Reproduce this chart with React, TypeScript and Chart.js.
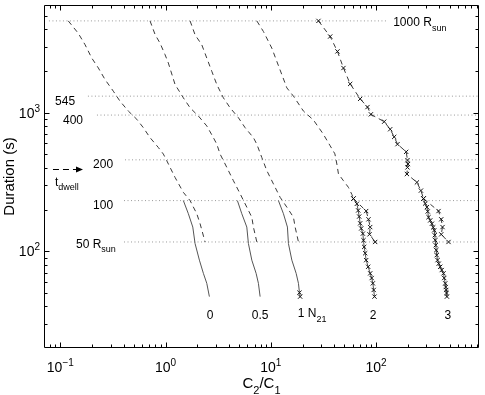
import React, { useEffect, useRef } from "react";
import { Chart, registerables } from "chart.js";

Chart.register(...registerables);

// ---- axis ranges / ticks ----
const X_MIN = 0.07;
const X_MAX = 950;
const Y_MIN = 20;
const Y_MAX = 6000;
const X_TICK_EXP = [-1, 0, 1, 2];
const Y_TICK_EXP = [2, 3];

// ---- reference distance levels (dotted lines) ----
const REF_NAMES = ["1000", "545", "400", "200", "100", "50"];
const REF_DURATION = [4606, 1318, 962, 457, 232, 116.6];
const REF_X_START = [0.078, 0.183, 0.223, 0.412, 0.403, 0.403];
const REF_X_END = [127.5, 950, 950, 950, 950, 950];

// ---- N21 = 0 ----
const G0_DASH_X = [0.119, 0.148, 0.172, 0.199, 0.23, 0.266, 0.319, 0.369, 0.443, 0.533, 0.615, 0.712, 0.854, 0.953, 1.027, 1.231, 1.476, 1.71, 1.98, 2.128, 2.374];
const G0_DASH_Y = [4606, 3752, 3097, 2482, 2104, 1737, 1431, 1213, 1028, 897, 780, 661, 561, 503, 450, 341, 266, 232, 186.5, 158, 116.6];
const G0_SOLID_X = [1.476, 1.647, 1.814, 1.907, 2.096, 2.287, 2.464, 2.608];
const G0_SOLID_Y = [232, 186.5, 149.4, 113.6, 86.2, 69.2, 58.6, 47.0];

// ---- N21 = 0.5 ----
const G05_DASH_X = [0.712, 0.795, 0.886, 0.989, 1.063, 1.231, 1.476, 1.71, 2.05, 2.464, 2.847, 3.067, 3.297, 3.818, 4.411, 5.108, 5.913, 6.598, 6.833, 7.36];
const G05_DASH_Y = [4606, 3673, 3181, 2626, 2285, 1599, 1281, 1086, 947, 803, 661, 593, 503, 403, 323, 260, 208, 176, 149.4, 116.6];
const G05_SOLID_X = [4.814, 5.301, 5.913, 6.125, 6.598, 7.249, 7.622, 7.912];
const G05_SOLID_Y = [232, 186.5, 149.4, 113.6, 86.2, 69.2, 58.6, 47.0];

// ---- N21 = 1 ----
const G1_DASH_X = [1.71, 1.907, 2.208, 2.464, 2.749, 3.067, 3.543, 4.103, 4.92, 5.697, 6.833, 7.36, 8.21, 9.16, 10.59, 12.26, 14.2, 16.4, 17.02, 18.3];
const G1_DASH_Y = [4606, 3654, 3097, 2482, 1993, 1599, 1281, 1086, 921, 780, 661, 593, 475, 382, 306, 245, 208, 176, 149.4, 116.6];
const G1_SOLID_X = [11.81, 13.18, 14.38, 14.7, 15.84, 17.4, 18.3, 18.71, 18.99];
const G1_SOLID_Y = [232, 186.5, 149.4, 113.6, 86.2, 69.2, 58.6, 50.2, 47.0];

// ---- N21 = 2 ----
const G2_DASH_X = [7.36, 8.506, 10.22, 11.4, 12.72, 14.2, 16.4, 20.41, 25.41, 31.42, 36.62, 40.6, 42.41, 43.92, 48.98, 54.65, 58.88, 60.98];
const G2_DASH_Y = [4606, 3860, 2928, 2350, 1887, 1512, 1318, 1028, 886, 703, 577, 505, 426, 361, 323, 289, 257, 240];
const G2_BRANCH_X = [60.98, 80.5, 84.7, 87.9, 86.6, 98.0];
const G2_BRANCH_Y = [240, 195, 170, 149.4, 132.4, 116.6];
const G2_SOLID_X = [60.98, 65.7, 67.6, 69.1, 70.6, 72.2, 74.9, 75.9, 77.1, 78.8, 80.5, 84.1, 87.9, 90.8, 93.2, 94.9, 96.6];
const G2_SOLID_Y = [240, 220, 197, 178, 159, 146, 134, 120, 107.4, 96.7, 86.2, 77.2, 69.2, 64.0, 58.6, 52.5, 47.0];

// ---- N21 = 3 ----
const G3_DASH_X = [28.35, 36.62, 42.96, 48.98, 56.74, 70.6, 82.85, 89.25, 119.4, 136.1, 148.6, 159.7, 193.2, 198.8, 200.6, 198.8, 196.3, 244.3, 266.6, 282.2];
const G3_DASH_Y = [4606, 3552, 2773, 2104, 1615, 1260, 1099, 974, 862, 760, 669, 593, 522, 455, 426, 403, 361, 314, 274, 240];
const G3_BRANCH_X = [282.2, 391.9, 415.8, 427.8, 415.8, 487.8];
const G3_BRANCH_Y = [240, 195, 170, 149.4, 132.4, 116.6];
const G3_SOLID_X = [282.2, 292.9, 304.0, 309.4, 314.9, 326.8, 339.2, 349.0, 356.7, 360.6, 364.6, 368.6, 372.7, 376.7, 383.5, 393.6, 406.8, 420.4, 437.2, 443.9, 453.8, 458.8, 463.8, 466.9, 471.0];
const G3_SOLID_Y = [240, 221.1, 208, 193.7, 176, 166.9, 158, 148.7, 141.5, 130.3, 120, 110.4, 101.7, 93.6, 86.2, 81.3, 77.2, 73.1, 69.2, 64.0, 58.6, 55.1, 52.5, 49.9, 47.0];

// ---- text annotations (data coordinates) ----
type Part = { t: string; s?: "sub" | "sup" };
const LABEL_PARTS: Part[][] = [
  [{ t: "545" }],
  [{ t: "400" }],
  [{ t: "200" }],
  [{ t: "t" }, { t: "dwell", s: "sub" }],
  [{ t: "100" }],
  [{ t: "50 R" }, { t: "sun", s: "sub" }],
  [{ t: "1000 R" }, { t: "sun", s: "sub" }],
  [{ t: "0" }],
  [{ t: "0.5" }],
  [{ t: "1 N" }, { t: "21", s: "sub" }],
  [{ t: "2" }],
  [{ t: "3" }],
];
const LABEL_X = [0.0891, 0.1061, 0.2046, 0.0891, 0.2046, 0.141, 145.4, 2.649, 7.91, 18.05, 93.9, 481.4];
const LABEL_Y = [1213, 886, 428, 320, 217, 114, 4540, 34.7, 34.7, 36, 34.7, 34.7];
const LABEL_ALIGN = ["left", "left", "left", "left", "left", "left", "left", "center", "center", "left", "center", "center"];
const ARROW_X = [0.0852, 0.1643];
const ARROW_Y = 394;

const FONT = '"Liberation Sans", Arial, Helvetica, sans-serif';

const pts = (xs: number[], ys: number[]) => xs.map((x, i) => ({ x, y: ys[i] }));

function drawRich(ctx: CanvasRenderingContext2D, parts: Part[], x: number, y: number, align: string, size: number, subSize?: number) {
  const ss = subSize ?? Math.round(size * 0.72);
  const big = `${size}px ${FONT}`;
  const small = `${ss}px ${FONT}`;
  let w = 0;
  const ws = parts.map((p) => {
    ctx.font = p.s ? small : big;
    const m = ctx.measureText(p.t).width;
    w += m;
    return m;
  });
  let cx = align === "left" ? x : align === "center" ? x - w / 2 : x - w;
  ctx.textAlign = "left";
  ctx.textBaseline = "alphabetic";
  parts.forEach((p, i) => {
    ctx.font = p.s ? small : big;
    const dy = p.s === "sub" ? size * 0.38 : p.s === "sup" ? -size * 0.42 : 0;
    ctx.fillText(p.t, cx, y + dy);
    cx += ws[i];
  });
}

const framePlugin = {
  id: "frame",
  afterDatasetsDraw(chart: any) {
    const { ctx, chartArea: a, scales } = chart;
    const xs = scales.x;
    const ys = scales.y;
    ctx.save();
    ctx.strokeStyle = "#000";
    ctx.fillStyle = "#000";
    ctx.lineWidth = 1;
    const L = Math.round(a.left) + 0.5;
    const R = Math.round(a.right) - 0.5;
    const T = Math.round(a.top) + 0.5;
    const B = Math.round(a.bottom) - 0.5;
    ctx.beginPath();
    ctx.moveTo(L, T);
    ctx.lineTo(R, T);
    ctx.lineTo(R, B);
    ctx.lineTo(L, B);
    ctx.closePath();
    ctx.stroke();

    // ticks
    ctx.beginPath();
    for (let e = -2; e <= 3; e++) {
      for (let m = 1; m <= 9; m++) {
        const v = m * Math.pow(10, e);
        if (v <= X_MIN || v >= X_MAX) continue;
        const px = Math.round(xs.getPixelForValue(v)) + 0.5;
        const len = m === 1 ? 5 : 3;
        ctx.moveTo(px, B);
        ctx.lineTo(px, B - len);
        ctx.moveTo(px, T);
        ctx.lineTo(px, T + len);
      }
    }
    for (let e = 1; e <= 4; e++) {
      for (let m = 1; m <= 9; m++) {
        const v = m * Math.pow(10, e);
        if (v <= Y_MIN || v >= Y_MAX) continue;
        const py = Math.round(ys.getPixelForValue(v)) + 0.5;
        const len = m === 1 ? 5 : 3;
        ctx.moveTo(L, py);
        ctx.lineTo(L + len, py);
        ctx.moveTo(R, py);
        ctx.lineTo(R - len, py);
      }
    }
    ctx.stroke();

    // tick labels
    X_TICK_EXP.forEach((e) => {
      const px = xs.getPixelForValue(Math.pow(10, e));
      drawRich(ctx, [{ t: "10" }, { t: String(e).replace("-", "\u2212"), s: "sup" }], px, a.bottom + 24, "center", 14, 10);
    });
    Y_TICK_EXP.forEach((e) => {
      const py = ys.getPixelForValue(Math.pow(10, e));
      drawRich(ctx, [{ t: "10" }, { t: String(e), s: "sup" }], a.left - 4, py + 5, "right", 14, 10);
    });

    // axis titles
    drawRich(ctx, [{ t: "C" }, { t: "2", s: "sub" }, { t: "/C" }, { t: "1", s: "sub" }], (a.left + a.right) / 2, a.bottom + 40, "center", 15, 11);
    ctx.save();
    ctx.translate(14, (a.top + a.bottom) / 2);
    ctx.rotate(-Math.PI / 2);
    drawRich(ctx, [{ t: "Duration (s)" }], 0, 0, "center", 15);
    ctx.restore();

    // annotations
    LABEL_PARTS.forEach((parts, i) => {
      const px = xs.getPixelForValue(LABEL_X[i]);
      const py = ys.getPixelForValue(LABEL_Y[i]);
      drawRich(ctx, parts, px, py + 4.3, LABEL_ALIGN[i], 12, 9);
    });

    // t_dwell arrow
    const ax0 = xs.getPixelForValue(ARROW_X[0]);
    const ax1 = xs.getPixelForValue(ARROW_X[1]);
    const ay = Math.round(ys.getPixelForValue(ARROW_Y)) + 0.5;
    ctx.setLineDash([6, 4]);
    ctx.beginPath();
    ctx.moveTo(ax0, ay);
    ctx.lineTo(ax1 - 5, ay);
    ctx.stroke();
    ctx.setLineDash([]);
    ctx.beginPath();
    ctx.moveTo(ax1, ay);
    ctx.lineTo(ax1 - 7, ay - 3);
    ctx.lineTo(ax1 - 7, ay + 3);
    ctx.closePath();
    ctx.fill();
    ctx.restore();
  },
};

export default function App() {
  const ref = useRef<HTMLCanvasElement | null>(null);
  useEffect(() => {
    if (!ref.current) return;
    const lineColor = "#3a3a3a";
    const dashed = (xs: number[], ys: number[], markers = false) => ({
      data: pts(xs, ys),
      showLine: true,
      borderColor: lineColor,
      borderWidth: 1,
      borderDash: [5, 4],
      pointRadius: markers ? 3 : 0,
      pointStyle: "crossRot",
      pointBorderColor: "#111",
      pointBackgroundColor: "#111",
      pointBorderWidth: 1,
      fill: false,
      tension: 0,
    });
    const solid = (xs: number[], ys: number[], radius: number | number[] = 0) => ({
      data: pts(xs, ys),
      showLine: true,
      borderColor: "#555",
      borderWidth: 1,
      pointRadius: radius,
      pointStyle: "crossRot",
      pointBorderColor: "#111",
      pointBackgroundColor: "#111",
      pointBorderWidth: 1,
      fill: false,
      tension: 0,
    });
    const refSets = REF_NAMES.map((_, i) => ({
      data: [
        { x: REF_X_START[i], y: REF_DURATION[i] },
        { x: REF_X_END[i], y: REF_DURATION[i] },
      ],
      showLine: true,
      borderColor: "#999",
      borderWidth: 1,
      borderDash: [1, 2.5],
      pointRadius: 0,
      fill: false,
      order: 10,
    }));
    const chart = new Chart(ref.current, {
      type: "scatter",
      data: {
        datasets: [
          ...refSets,
          dashed(G0_DASH_X, G0_DASH_Y),
          solid(G0_SOLID_X, G0_SOLID_Y),
          dashed(G05_DASH_X, G05_DASH_Y),
          solid(G05_SOLID_X, G05_SOLID_Y),
          dashed(G1_DASH_X, G1_DASH_Y),
          solid(G1_SOLID_X, G1_SOLID_Y, G1_SOLID_X.map((_, i) => (i >= G1_SOLID_X.length - 2 ? 3 : 0))),
          dashed(G2_DASH_X, G2_DASH_Y),
          dashed(G2_BRANCH_X, G2_BRANCH_Y, true),
          solid(G2_SOLID_X, G2_SOLID_Y, 3),
          dashed(G3_DASH_X, G3_DASH_Y, true),
          dashed(G3_BRANCH_X, G3_BRANCH_Y, true),
          solid(G3_SOLID_X, G3_SOLID_Y, 3),
        ] as any,
      },
      options: {
        animation: false,
        responsive: false,
        devicePixelRatio: 1,
        events: [],
        layout: { padding: { left: 44, top: 4, right: 6, bottom: 47 } },
        plugins: { legend: { display: false }, tooltip: { enabled: false } },
        scales: {
          x: { type: "logarithmic", min: X_MIN, max: X_MAX, display: false },
          y: { type: "logarithmic", min: Y_MIN, max: Y_MAX, display: false },
        },
      } as any,
      plugins: [framePlugin],
    });
    return () => chart.destroy();
  }, []);
  return (
    <div style={{ position: "fixed", left: 0, top: 0, width: 485, height: 395, background: "#fff" }}>
      <canvas ref={ref} width={485} height={395} style={{ width: 485, height: 395, display: "block" }} />
    </div>
  );
}
